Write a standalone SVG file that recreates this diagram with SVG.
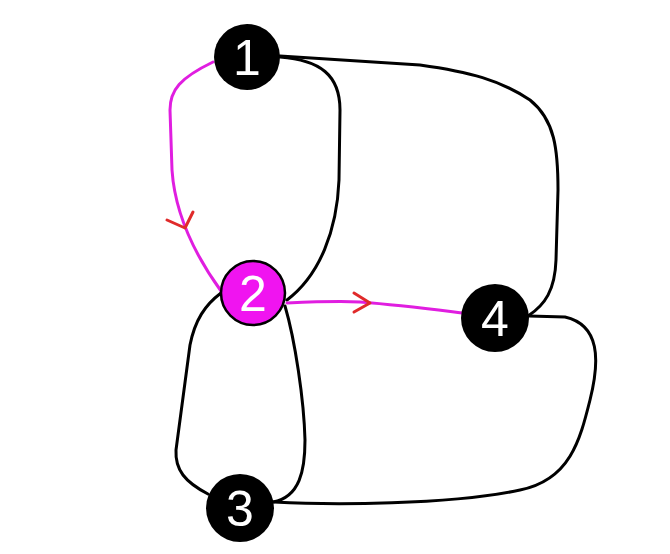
<svg xmlns="http://www.w3.org/2000/svg" width="670" height="554" viewBox="0 0 670 554">
<style>
.e{fill:none;stroke:#000;stroke-width:3;stroke-linecap:round;stroke-linejoin:round}
.p{fill:none;stroke:#e01ee0;stroke-width:3;stroke-linecap:round}
.a{fill:none;stroke:#e02a2a;stroke-width:3;stroke-linecap:round;stroke-linejoin:round}
.n{fill:#000}
.t{fill:#fff;font-family:"Liberation Sans",Arial,sans-serif;font-size:50px;text-anchor:middle}
</style>
<rect width="670" height="554" fill="#fff"/>
<g id="edges">
<path class="e" d="M280,56 L420,65 C470,72 500,80 530,100 C555,120 558,150 558,190 L556,260 C555,290 545,305 528,316"/>
<path class="e" d="M280,57 C320,60 340,75 340,110 L339,180 C337,230 320,275 287,300"/>
<path class="e" d="M221,293 C205,305 195,320 190,345 L176,450 C175,470 185,482 208,494"/>
<path class="e" d="M285,306 C295,340 304,400 305,440 C305,470 300,497 273,502"/>
<path class="e" d="M274,502 C330,505 450,505 520,490 C570,480 580,440 590,400 C600,360 600,325 565,317 L529,316"/>
<path class="p" d="M213,62 C180,78 170,90 170,110 L172,170 C175,215 195,255 221,291"/>
<path class="p" d="M287,303 C310,302 340,301 360,302 C400,305 430,309 462,313"/>
<path class="a" d="M167,220 L185,228 L193,212"/>
<path class="a" d="M354,293 L370,303 L354,312"/>
</g>
<g id="node1"><circle class="n" cx="247" cy="57" r="33"/><text class="t" x="247" y="75">1</text></g>
<g id="node2"><circle cx="253" cy="293" r="32" fill="#f014f0" stroke="#000" stroke-width="2.5"/><text class="t" x="253" y="311">2</text></g>
<g id="node3"><circle class="n" cx="240" cy="508" r="34"/><text class="t" x="240" y="526">3</text></g>
<g id="node4"><circle class="n" cx="495" cy="318" r="34"/><text class="t" x="495" y="336">4</text></g>
</svg>
